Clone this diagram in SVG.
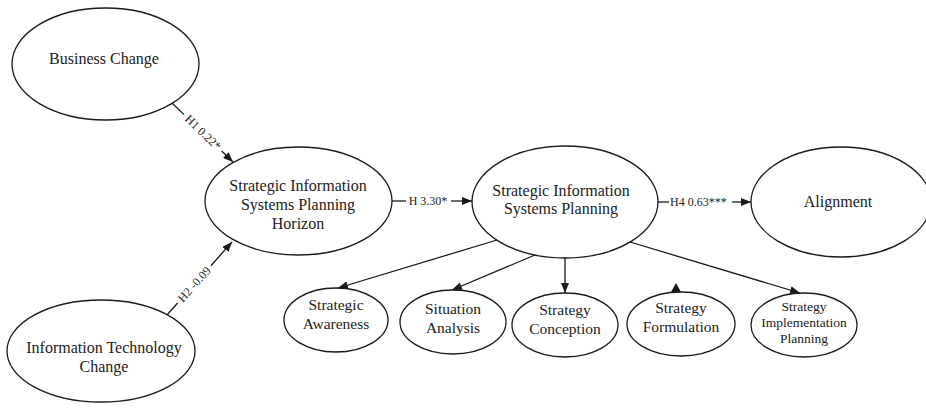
<svg xmlns="http://www.w3.org/2000/svg" width="926" height="410" viewBox="0 0 926 410">
<style>
.node ellipse{fill:#fff;stroke:#1a1a1a;stroke-width:1.3}
.t{font-family:"Liberation Serif","Times New Roman",serif;fill:#222;text-anchor:middle}
.big{font-size:16px}
.small{font-size:15.5px}
.tiny{font-size:13.5px}
.lbl{font-family:"Liberation Serif","Times New Roman",serif;fill:#222;font-size:12px}
.edge line{stroke:#1a1a1a;stroke-width:1.3;fill:none}
</style>
<defs>
<marker id="ah" viewBox="0 0 10 8" refX="10" refY="4" markerWidth="10" markerHeight="8" markerUnits="userSpaceOnUse" orient="auto">
<path d="M0,0 L10,4 L0,8 z" fill="#1a1a1a"/>
</marker>
</defs>
<rect width="926" height="410" fill="#fff"/>

<g id="connectors" class="edge">
<line x1="172" y1="103" x2="184" y2="114.6"/>
<line x1="221.6" y1="151" x2="233" y2="162" marker-end="url(#ah)"/>
<text class="lbl" text-anchor="middle" transform="translate(203,132.5) rotate(44)" y="4">H1 0.22*</text>

<line x1="167" y1="315" x2="177.6" y2="303"/>
<line x1="210.9" y1="265.7" x2="232" y2="242" marker-end="url(#ah)"/>
<text class="lbl" text-anchor="middle" transform="translate(194.3,284.4) rotate(-48.3)" y="4">H2 -0.09</text>

<line x1="392" y1="201" x2="406" y2="201"/>
<text class="lbl" x="428" y="205" text-anchor="middle">H 3.30*</text>
<line x1="451" y1="201" x2="472" y2="201" marker-end="url(#ah)"/>

<line x1="643" y1="202" x2="669" y2="202"/>
<text class="lbl" x="670" y="206">H4 0.63***</text>
<line x1="732" y1="202" x2="751" y2="202" marker-end="url(#ah)"/>

<line x1="497" y1="240" x2="338" y2="288" marker-end="url(#ah)"/>
<line x1="535" y1="255" x2="452" y2="290" marker-end="url(#ah)"/>
<line x1="565" y1="258" x2="565" y2="293" marker-end="url(#ah)"/>
<line x1="630" y1="242" x2="800" y2="293" marker-end="url(#ah)"/>
<path d="M671,292 L676,283 L681,292 z" fill="#1a1a1a"/>
</g>

<g id="business-change" class="node">
<ellipse cx="105.5" cy="64" rx="93.5" ry="56"/>
<text class="t big" x="104" y="63.5">Business Change</text>
</g>

<g id="it-change" class="node">
<ellipse cx="101" cy="351" rx="94" ry="51"/>
<text class="t big" x="104" y="353">Information Technology</text>
<text class="t big" x="104" y="372">Change</text>
</g>

<g id="sisp-horizon" class="node">
<ellipse cx="298.5" cy="201" rx="93.5" ry="54"/>
<text class="t big" x="298" y="191">Strategic Information</text>
<text class="t big" x="298" y="210">Systems Planning</text>
<text class="t big" x="298" y="229">Horizon</text>
</g>

<g id="sisp" class="node">
<ellipse cx="565" cy="202" rx="93" ry="56"/>
<text class="t big" x="561" y="196">Strategic Information</text>
<text class="t big" x="561" y="214">Systems Planning</text>
</g>

<g id="alignment" class="node">
<ellipse cx="841" cy="202" rx="90" ry="55"/>
<text class="t big" x="838" y="207">Alignment</text>
</g>

<g id="strategic-awareness" class="node">
<ellipse cx="336" cy="320" rx="52" ry="32"/>
<text class="t small" x="336" y="310">Strategic</text>
<text class="t small" x="336" y="329">Awareness</text>
</g>

<g id="situation-analysis" class="node">
<ellipse cx="453" cy="322" rx="53" ry="32"/>
<text class="t small" x="453" y="314">Situation</text>
<text class="t small" x="453" y="333">Analysis</text>
</g>

<g id="strategy-conception" class="node">
<ellipse cx="565" cy="325" rx="53" ry="32"/>
<text class="t small" x="565" y="315">Strategy</text>
<text class="t small" x="565" y="334">Conception</text>
</g>

<g id="strategy-formulation" class="node">
<ellipse cx="681" cy="324" rx="54" ry="32"/>
<text class="t small" x="681" y="313">Strategy</text>
<text class="t small" x="681" y="332">Formulation</text>
</g>

<g id="strategy-implementation-planning" class="node">
<ellipse cx="804" cy="325" rx="53" ry="32"/>
<text class="t tiny" x="804" y="311">Strategy</text>
<text class="t tiny" x="804" y="327">Implementation</text>
<text class="t tiny" x="804" y="343">Planning</text>
</g>
</svg>
